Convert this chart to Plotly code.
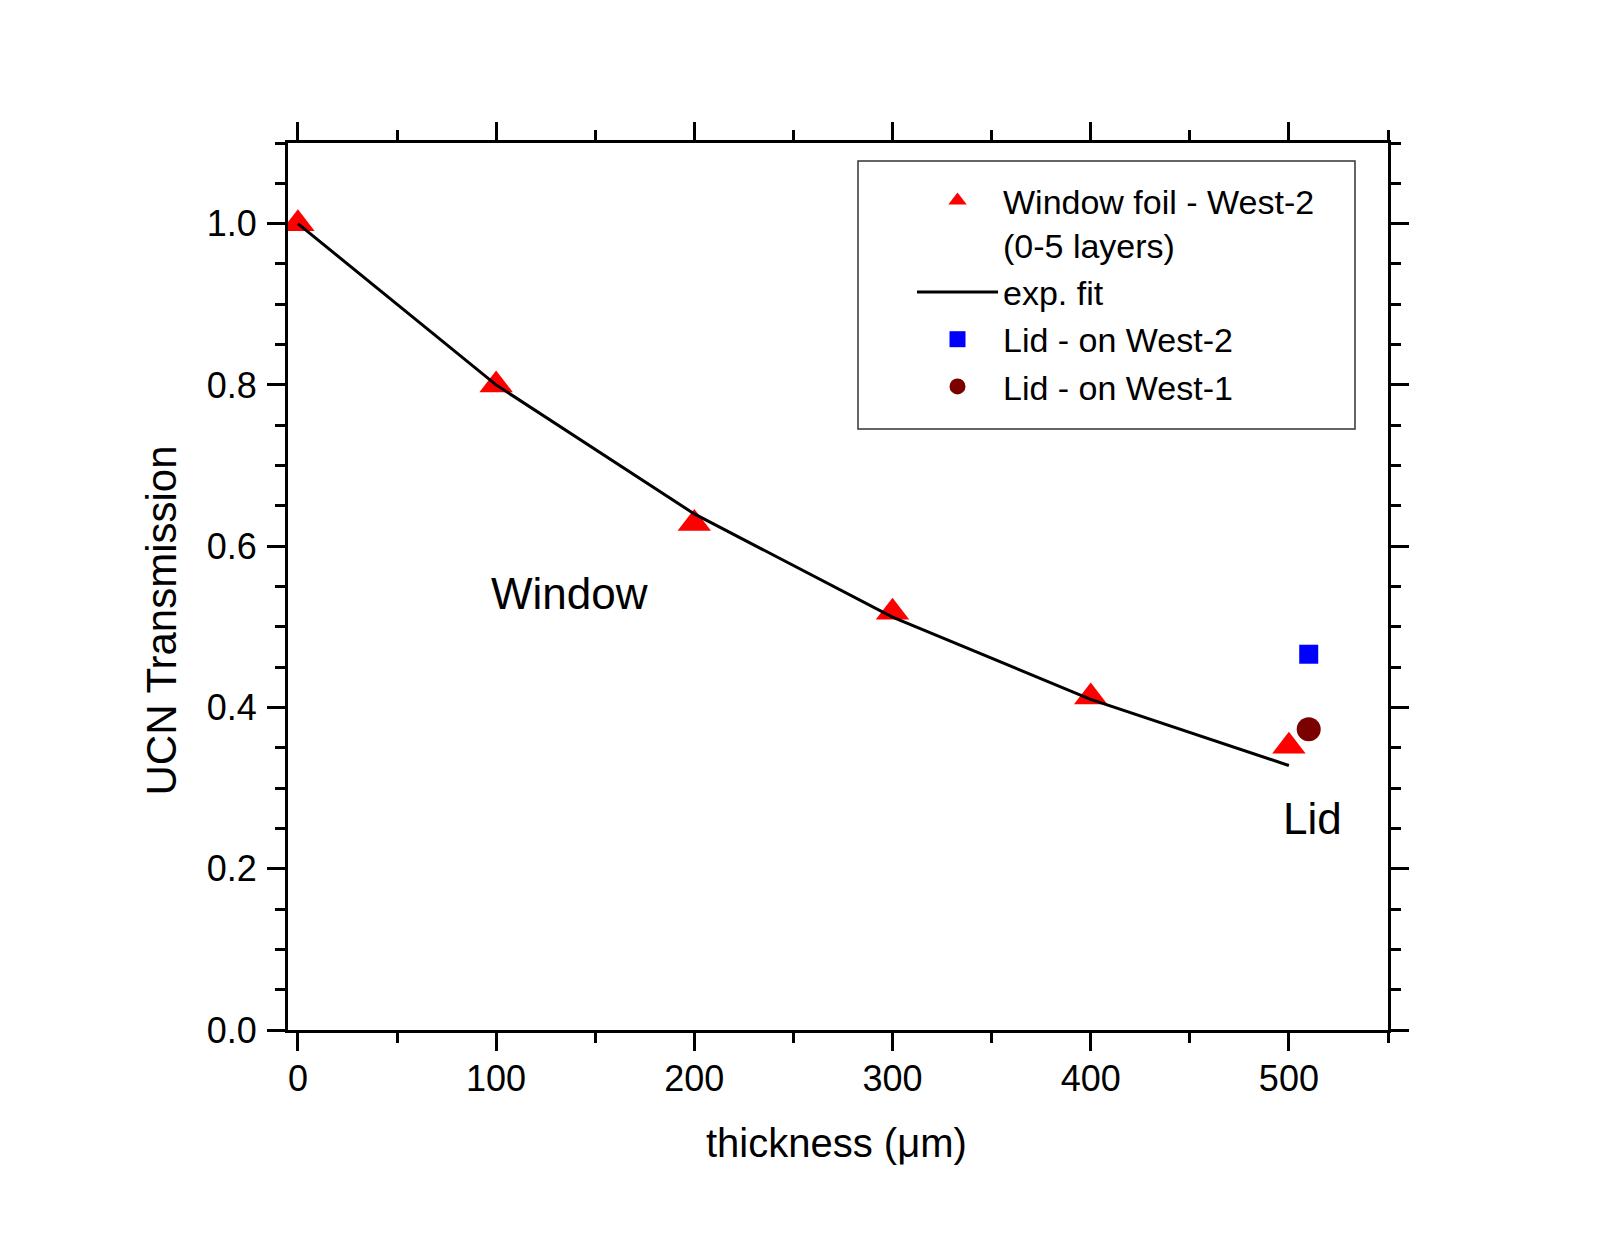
import plotly.graph_objects as go

# Data
window_x = [0, 100, 200, 300, 400, 500]
window_y = [1.0, 0.80, 0.628, 0.518, 0.413, 0.352]
fit_x = [0, 100, 200, 300, 400, 500]
fit_y = [1.0, 0.80, 0.64, 0.512, 0.41, 0.328]
lid_w2_x = [510]
lid_w2_y = [0.466]
lid_w1_x = [510]
lid_w1_y = [0.373]

FONT = "Liberation Sans, Arial, Helvetica, sans-serif"

fig = go.Figure()
fig.add_trace(go.Scatter(
    x=window_x, y=window_y, mode="markers",
    name="Window foil - West-2<br>(0-5 layers)",
    marker=dict(symbol="triangle-up", size=29, color="#FF0000", line=dict(width=0)),
))
fig.add_trace(go.Scatter(
    x=fit_x, y=fit_y, mode="lines", name="exp. fit",
    line=dict(color="black", width=3),
))
fig.add_trace(go.Scatter(
    x=lid_w2_x, y=lid_w2_y, mode="markers", name="Lid - on West-2",
    marker=dict(symbol="square", size=19, color="#0000FF", line=dict(width=0)),
))
fig.add_trace(go.Scatter(
    x=lid_w1_x, y=lid_w1_y, mode="markers", name="Lid - on West-1",
    marker=dict(symbol="circle", size=24, color="#7B0000", line=dict(width=0)),
))

W, H = 1613, 1238
L, R, T, B = 288, 1388, 143, 1030
pw, ph = R - L, B - T

def px(xp):
    return (xp - L) / pw

def py(yp):
    return (B - yp) / ph

axis_common = dict(
    showline=True, linecolor="black", linewidth=3, mirror="allticks",
    ticks="outside", ticklen=18, tickwidth=3, tickcolor="black",
    showgrid=False, zeroline=False,
    tickfont=dict(family=FONT, size=36, color="black"),
)

fig.update_xaxes(
    range=[-5, 550], tickmode="linear", tick0=0, dtick=100,
    minor=dict(ticks="outside", ticklen=10, tickwidth=3, tickcolor="black", dtick=50, tick0=0, showgrid=False),
    ticklabelstandoff=-3,
    **axis_common,
)
fig.update_yaxes(
    range=[0, 1.1], tickmode="linear", tick0=0, dtick=0.2, tickformat=".1f",
    minor=dict(ticks="outside", ticklen=10, tickwidth=3, tickcolor="black", dtick=0.05, tick0=0, showgrid=False),
    ticklabelstandoff=3,
    **axis_common,
)

fig.add_shape(
    type="rect", xref="paper", yref="paper",
    x0=px(858), x1=px(1355), y0=py(429), y1=py(161),
    line=dict(color="#333333", width=1.5), fillcolor="rgba(0,0,0,0)",
)

# axis titles
fig.add_annotation(xref="paper", yref="paper", x=px(836), y=py(1142.5),
                   xanchor="center", yanchor="middle", showarrow=False,
                   text="thickness (μm)", font=dict(family=FONT, size=40, color="black"))
fig.add_annotation(xref="paper", yref="paper", x=px(161), y=py(620.5),
                   xanchor="center", yanchor="middle", showarrow=False, textangle=-90,
                   text="UCN Transmission", font=dict(family=FONT, size=42, color="black"))

fig.add_annotation(x=137, y=0.541, text="Window", showarrow=False,
                   font=dict(family=FONT, size=44, color="black"))
fig.add_annotation(x=512, y=0.262, text="Lid", showarrow=False,
                   font=dict(family=FONT, size=44, color="black"))

fig.update_layout(
    width=W, height=H,
    margin=dict(l=L, r=W - R, t=T, b=H - B, autoexpand=False),
    paper_bgcolor="white", plot_bgcolor="white",
    font=dict(family=FONT, color="black"),
    showlegend=True,
    legend=dict(
        x=px(912), y=py(172), xanchor="left", yanchor="top",
        bgcolor="rgba(0,0,0,0)", borderwidth=0,
        font=dict(family=FONT, size=34, color="black"),
        itemwidth=81, valign="top", tracegroupgap=0,
    ),
)

fig.write_html("out.html")
